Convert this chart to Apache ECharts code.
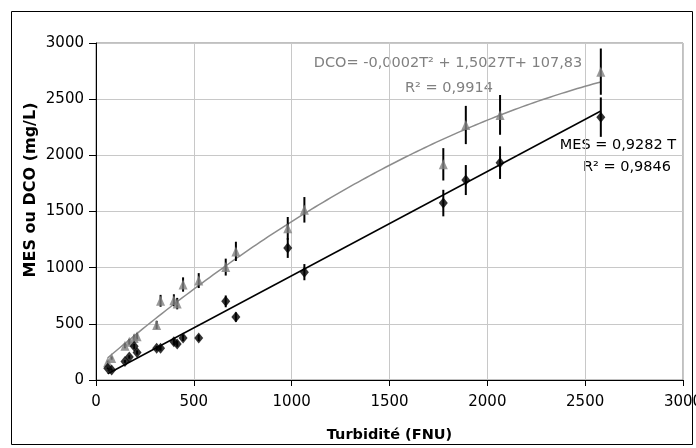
<!DOCTYPE html>
<html>
<head>
<meta charset="utf-8">
<script src="https://cdn.jsdelivr.net/npm/echarts@6/dist/echarts.min.js"></script>
<style>
html,body{margin:0;padding:0;background:#fff;}
#chart{width:696px;height:448px;}
</style>
</head>
<body>
<div id="chart"></div>
<script>
// Turbidity (FNU) of each sample
const turbidity = [60, 80, 148, 170, 195, 210, 310, 330, 398, 415, 445, 525, 663, 715, 980, 1065, 1775, 1890, 2065, 2580];
// MES (mg/L)
const mes = [105, 90, 165, 205, 300, 245, 282, 282, 340, 320, 375, 375, 700, 560, 1175, 960, 1575, 1780, 1935, 2340];
// DCO (mg/L)
const dco = [160, 195, 305, 340, 375, 390, 490, 705, 710, 680, 850, 885, 1005, 1145, 1350, 1515, 1920, 2270, 2360, 2745];
// relative error bar (±)
const errPct = 0.075;
// trend line coefficients (as displayed)
const mesSlope = 0.9282;
const dcoPoly = [-0.0002, 1.5027, 107.83];
const trendRange = [60, 2580];
const xTicks = [0, 500, 1000, 1500, 2000, 2500, 3000];
const yTicks = [0, 500, 1000, 1500, 2000, 2500, 3000];

const FONT = 'DejaVu Sans';
const mesPts = turbidity.map((t, i) => [t, mes[i]]);
const dcoPts = turbidity.map((t, i) => [t, dco[i]]);
const errData = [];
turbidity.forEach((t, i) => {
  errData.push([t, mes[i] * (1 - errPct), mes[i] * (1 + errPct)]);
  errData.push([t, dco[i] * (1 - errPct), dco[i] * (1 + errPct)]);
});
const mesLine = [[trendRange[0], mesSlope * trendRange[0]], [trendRange[1], mesSlope * trendRange[1]]];
const dcoLine = [];
for (let t = trendRange[0]; t <= trendRange[1]; t += 20) {
  dcoLine.push([t, dcoPoly[0] * t * t + dcoPoly[1] * t + dcoPoly[2]]);
}

const chart = echarts.init(document.getElementById('chart'), null, {renderer: 'canvas'});
chart.setOption({
  animation: false,
  backgroundColor: '#fff',
  grid: {left: 96, right: 13, top: 43, bottom: 68, show: true, borderColor: '#808080', borderWidth: 1,
         containLabel: false, outerBoundsMode: 'none'},
  xAxis: {
    type: 'value', min: xTicks[0], max: xTicks[xTicks.length - 1], interval: 500,
    name: 'Turbidité (FNU)', nameLocation: 'middle', nameGap: 48,
    nameTextStyle: {fontFamily: FONT, fontSize: 14.5, fontWeight: 'bold', color: '#000'},
    axisLine: {lineStyle: {color: '#000', width: 1}},
    axisTick: {show: true, length: 6, lineStyle: {color: '#000'}},
    axisLabel: {fontFamily: FONT, fontSize: 15, color: '#000', margin: 15, formatter: v => String(v)},
    splitLine: {show: true, lineStyle: {color: '#c8c8c8', width: 1}}
  },
  yAxis: {
    type: 'value', min: yTicks[0], max: yTicks[yTicks.length - 1], interval: 500,
    axisLine: {lineStyle: {color: '#000', width: 1}},
    axisTick: {show: true, length: 7, lineStyle: {color: '#000'}},
    axisLabel: {fontFamily: FONT, fontSize: 15, color: '#000', margin: 12, formatter: v => String(v)},
    splitLine: {show: true, lineStyle: {color: '#c8c8c8', width: 1}}
  },
  graphic: [
    {type: 'rect', shape: {x: 11.5, y: 11.5, width: 681, height: 433}, style: {fill: 'none', stroke: '#000', lineWidth: 1}, silent: true, z: -1},
    {type: 'text', x: 31, y: 190, rotation: Math.PI / 2, style: {text: 'MES ou DCO (mg/L)', font: 'bold 16px "DejaVu Sans"', fill: '#000', align: 'center', verticalAlign: 'middle'}},
    {type: 'text', x: 448, y: 63, style: {text: 'DCO= -0,0002T² + 1,5027T+ 107,83', font: '14.5px "DejaVu Sans"', fill: '#808080', align: 'center', verticalAlign: 'middle'}},
    {type: 'text', x: 449, y: 88, style: {text: 'R² = 0,9914', font: '14.5px "DejaVu Sans"', fill: '#808080', align: 'center', verticalAlign: 'middle'}},
    {type: 'text', x: 618, y: 145, style: {text: 'MES = 0,9282 T', font: '14.5px "DejaVu Sans"', fill: '#000', align: 'center', verticalAlign: 'middle'}},
    {type: 'text', x: 627, y: 167, style: {text: 'R² = 0,9846', font: '14.5px "DejaVu Sans"', fill: '#000', align: 'center', verticalAlign: 'middle'}}
  ],
  series: [
    {
      name: 'DCO trend', type: 'line', data: dcoLine, showSymbol: false, smooth: false,
      lineStyle: {color: '#8c8c8c', width: 1.5}, z: 2
    },
    {
      name: 'MES trend', type: 'line', data: mesLine, showSymbol: false,
      lineStyle: {color: '#000', width: 1.5}, z: 2
    },
    {
      name: 'err', type: 'custom', data: errData, z: 3,
      renderItem: function (params, api) {
        const p1 = api.coord([api.value(0), api.value(1)]);
        const p2 = api.coord([api.value(0), api.value(2)]);
        return {type: 'line', shape: {x1: p1[0], y1: p1[1], x2: p2[0], y2: p2[1]}, style: {stroke: '#000', lineWidth: 2}};
      }
    },
    {
      name: 'DCO', type: 'scatter', data: dcoPts, symbol: 'triangle', symbolSize: [9, 10],
      itemStyle: {color: '#808080'}, z: 4
    },
    {
      name: 'MES', type: 'scatter', data: mesPts, symbol: 'diamond', symbolSize: [9, 11],
      itemStyle: {color: '#000'}, z: 4
    }
  ]
});
</script>
</body>
</html>
